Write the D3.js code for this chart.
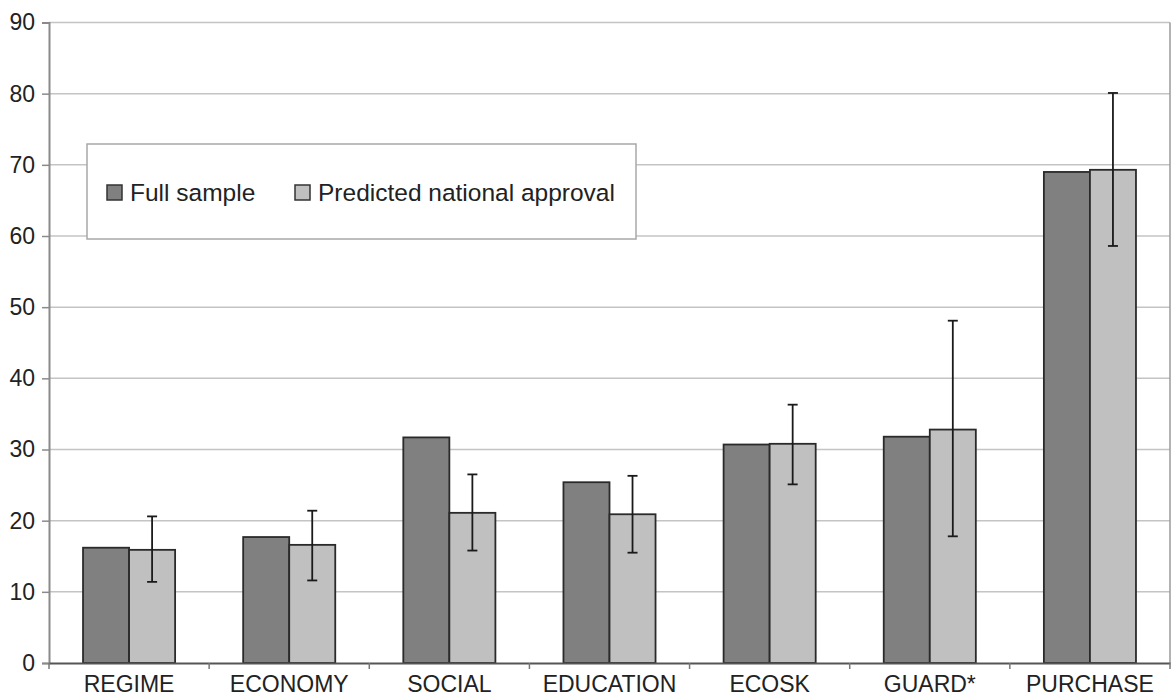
<!DOCTYPE html>
<html>
<head>
<meta charset="utf-8">
<script src="https://d3js.org/d3.v7.min.js"></script>
<style>
  body { margin: 0; background: #fff; }
  svg { display: block; font-family: "Liberation Sans", Arial, sans-serif; }
</style>
</head>
<body>
<svg id="chart" width="1173" height="696"></svg>
<script>
// chart data
const categories = ["REGIME", "ECONOMY", "SOCIAL", "EDUCATION", "ECOSK", "GUARD*", "PURCHASE"];
const seriesNames = ["Full sample", "Predicted national approval"];
const fullSample = [16.2, 17.7, 31.7, 25.4, 30.7, 31.8, 69.0];
const predicted = [15.9, 16.6, 21.1, 20.9, 30.8, 32.8, 69.3];
const errLow = [11.4, 11.6, 15.8, 15.5, 25.1, 17.8, 58.6];
const errHigh = [20.6, 21.4, 26.5, 26.3, 36.3, 48.1, 80.1];
const yTicks = [0, 10, 20, 30, 40, 50, 60, 70, 80, 90];

const colors = ["#808080", "#c0c0c0"];

const svg = d3.select("#chart");
const plotLeft = 49, plotRight = 1170, plotTop = 22.5, plotBottom = 663;

const x = d3.scaleBand()
    .domain(categories)
    .range([plotLeft, plotRight])
    .paddingInner(0.425)
    .paddingOuter(0.2125);

const xSub = d3.scaleBand()
    .domain(seriesNames)
    .range([0, x.bandwidth()]);

const y = d3.scaleLinear()
    .domain([0, 90])
    .range([plotBottom, plotTop]);

// gridlines
svg.append("g")
    .selectAll("line")
    .data(yTicks.slice(1))
    .join("line")
      .attr("x1", plotLeft)
      .attr("x2", plotRight)
      .attr("y1", d => y(d))
      .attr("y2", d => y(d))
      .attr("stroke", "#c4c4c4")
      .attr("stroke-width", 1.5);

// right border
svg.append("line")
    .attr("x1", plotRight).attr("x2", plotRight)
    .attr("y1", y(90)).attr("y2", y(0))
    .attr("stroke", "#9a9a9a")
    .attr("stroke-width", 1.5);

// bars
const rows = categories.map((c, i) => ({cat: c, vals: [fullSample[i], predicted[i]]}));

svg.append("g")
    .selectAll("g")
    .data(rows)
    .join("g")
      .attr("transform", d => "translate(" + x(d.cat) + ",0)")
    .selectAll("rect")
    .data(d => d.vals.map((v, j) => ({key: seriesNames[j], v: v, j: j})))
    .join("rect")
      .attr("x", d => xSub(d.key))
      .attr("y", d => y(d.v))
      .attr("width", xSub.bandwidth())
      .attr("height", d => y(0) - y(d.v))
      .attr("fill", d => colors[d.j])
      .attr("stroke", "#2a2a2a")
      .attr("stroke-width", 1.8);

// error bars on the predicted series
const errG = svg.append("g")
    .attr("stroke", "#1a1a1a")
    .attr("stroke-width", 1.8);
categories.forEach((c, i) => {
  const cx = x(c) + xSub(seriesNames[1]) + xSub.bandwidth() / 2;
  errG.append("line")
      .attr("x1", cx).attr("x2", cx)
      .attr("y1", y(errLow[i])).attr("y2", y(errHigh[i]));
  [errLow[i], errHigh[i]].forEach(v => {
    errG.append("line")
        .attr("x1", cx - 5).attr("x2", cx + 5)
        .attr("y1", y(v)).attr("y2", y(v));
  });
});

// y axis
const yAxis = svg.append("g")
    .attr("transform", "translate(" + plotLeft + ",0)")
    .call(d3.axisLeft(y).tickValues(yTicks).tickSize(7).tickPadding(7));
yAxis.select(".domain").attr("stroke", "#8a8a8a").attr("stroke-width", 2);
yAxis.selectAll(".tick line").attr("stroke", "#8a8a8a").attr("stroke-width", 1.5);
yAxis.selectAll(".tick text")
    .attr("font-size", 23)
    .attr("fill", "#222")
    .attr("font-family", "Liberation Sans, Arial, sans-serif");

// x axis
const xAxis = svg.append("g")
    .attr("transform", "translate(0," + plotBottom + ")")
    .call(d3.axisBottom(x).tickSize(0).tickPadding(13));
xAxis.select(".domain").attr("stroke", "#555").attr("stroke-width", 2);
xAxis.selectAll(".tick text")
    .attr("font-size", 23)
    .attr("fill", "#222")
    .attr("font-family", "Liberation Sans, Arial, sans-serif");

// boundary ticks between categories
svg.append("g")
    .selectAll("line")
    .data(d3.range(categories.length + 1))
    .join("line")
      .attr("x1", i => plotLeft + i * x.step())
      .attr("x2", i => plotLeft + i * x.step())
      .attr("y1", plotBottom)
      .attr("y2", plotBottom + 6)
      .attr("stroke", "#777")
      .attr("stroke-width", 1.5);

// legend
const legend = svg.append("g");
legend.append("rect")
    .attr("x", 87).attr("y", 144)
    .attr("width", 549).attr("height", 95)
    .attr("fill", "#fff")
    .attr("stroke", "#a8a8a8")
    .attr("stroke-width", 1.5);

const legendX = [107, 295];
seriesNames.forEach((name, j) => {
  legend.append("rect")
      .attr("x", legendX[j]).attr("y", 185)
      .attr("width", 15).attr("height", 15)
      .attr("fill", colors[j])
      .attr("stroke", "#333")
      .attr("stroke-width", 1.5);
  legend.append("text")
      .attr("x", legendX[j] + 23)
      .attr("y", 201)
      .attr("font-size", 24.5)
      .attr("fill", "#222")
      .text(name);
});
</script>
</body>
</html>
